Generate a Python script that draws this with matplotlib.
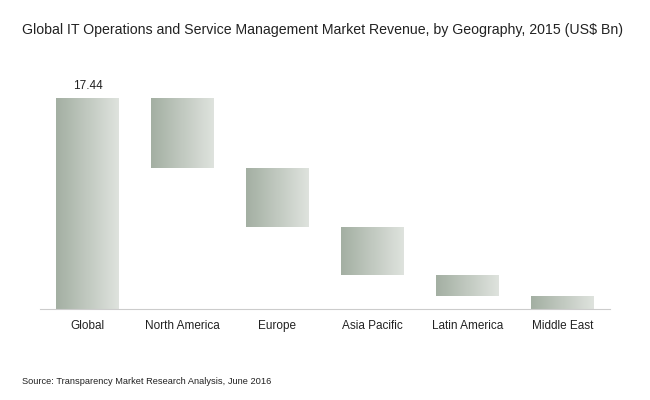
import matplotlib
matplotlib.use("Agg")
import matplotlib.pyplot as plt
import numpy as np
from matplotlib.colors import LinearSegmentedColormap
from matplotlib.patches import Rectangle

plt.rcParams["font.family"] = "Liberation Sans"

categories = ["Global", "North America", "Europe", "Asia Pacific", "Latin America", "Middle East"]
values = [17.44, 5.79, 4.88, 3.97, 1.74, 1.07]

fig = plt.figure(figsize=(6.5, 4), dpi=100)
ax = fig.add_axes([0.0615, 0.2275, 0.877, 0.6225])
ax.set_xlim(-0.5, 5.5)
ax.set_ylim(0, 20.58)

cmap = LinearSegmentedColormap.from_list("g", ["#a3afa2", "#dfe3de"])
grad = np.linspace(0, 1, 256).reshape(1, -1)
w = 0.66
top = values[0]
for i, (c, v) in enumerate(zip(categories, values)):
    if i == 0:
        lo, hi = 0, v
    else:
        hi = top; lo = top - v; top = lo
    r = Rectangle((i - w/2, lo), w, hi - lo, transform=ax.transData, facecolor="none", edgecolor="none")
    ax.add_patch(r)
    im = ax.imshow(grad, cmap=cmap, aspect="auto", extent=(i - w/2, i + w/2, lo, hi), zorder=2)
    im.set_clip_path(r)
ax.text(0, values[0] + 0.5, f"{values[0]:.2f}", ha="center", va="bottom", fontsize=8.5, color="#222222")

ax.set_xticks(range(len(categories)))
ax.set_xticklabels(categories, fontsize=8.5, color="#222222", va="baseline")
ax.tick_params(axis="x", length=0, pad=14.5)
ax.set_yticks([])
for s in ["top", "right", "left"]:
    ax.spines[s].set_visible(False)
ax.spines["bottom"].set_color("#cccccc")

fig.text(22/650, 1 - 30/400, "Global IT Operations and Service Management Market Revenue, by Geography, 2015 (US$ Bn)",
         fontsize=10.2, color="#222222", va="center", ha="left")
fig.text(22/650, 1 - 381/400, "Source: Transparency Market Research Analysis, June 2016",
         fontsize=6.7, color="#222222", va="center", ha="left")
fig.savefig("out.png", dpi=100)
